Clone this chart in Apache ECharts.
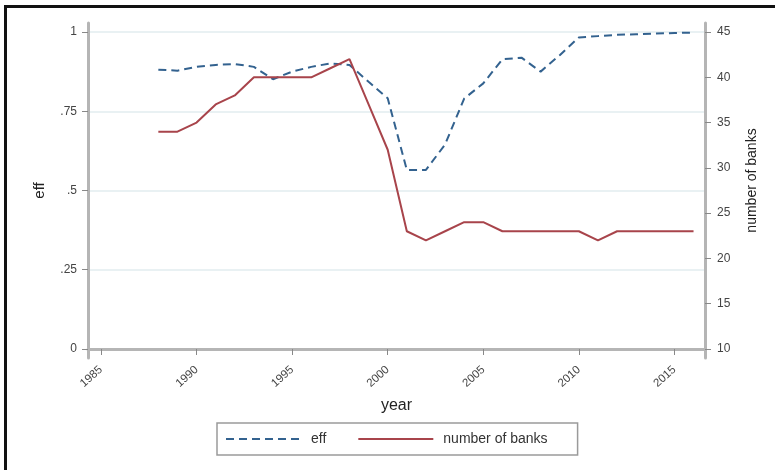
<!DOCTYPE html>
<html><head><meta charset="utf-8">
<script src="https://cdn.jsdelivr.net/npm/echarts@6/dist/echarts.min.js"></script>
<style>html,body{margin:0;padding:0;background:#fff}#c{width:775px;height:470px}</style>
</head><body><div id="c"></div>
<script>
const years = [1988,1989,1990,1991,1992,1993,1994,1995,1996,1997,1998,1999,2000,2001,2002,2003,2004,2005,2006,2007,2008,2009,2010,2011,2012,2013,2014,2015,2016];
const effValues = [0.881,0.878,0.890,0.896,0.899,0.890,0.851,0.875,0.890,0.901,0.896,0.843,0.791,0.565,0.565,0.645,0.790,0.838,0.914,0.919,0.875,0.927,0.983,0.987,0.991,0.993,0.995,0.997,0.998];
const banksValues = [34,34,35,37,38,40,40,40,40,41,42,37,32,23,22,23,24,24,23,23,23,23,23,22,23,23,23,23,23];
const xTicks = [1985,1990,1995,2000,2005,2010,2015];
const effTicks = [0,0.25,0.5,0.75,1];
const effTickLabels = ['0','.25','.5','.75','1'];
const bankTicks = [10,15,20,25,30,35,40,45];

const axisGray = '#b5b5b5';
const FONT = 'Liberation Sans, Arial, sans-serif';
const chart = echarts.init(document.getElementById('c'), null, {renderer:'canvas'});
chart.setOption({
  animation:false,
  backgroundColor:'#fff',
  grid:{left:88, right:70, top:23, bottom:112, containLabel:false},
  legend:{
    left:217, top:423,
    padding:[9,30,9,8],
    itemGap:31, itemWidth:75, itemHeight:14,
    borderColor:'#9a9a9a', borderWidth:1.5, borderRadius:0,
    itemStyle:{opacity:0},
    textStyle:{color:'#333', fontSize:14, fontFamily:FONT, padding:[0,0,0,5]},
    data:['eff','number of banks']
  },
  xAxis:{
    type:'value', min:1984.32, max:2016.6,
    name:'year', nameLocation:'middle', nameGap:40,
    nameTextStyle:{color:'#222', fontSize:16, fontFamily:FONT},
    axisLine:{show:true, lineStyle:{color:axisGray, width:3}},
    axisTick:{show:true, customValues:xTicks, length:6, lineStyle:{color:'#888', width:1}},
    axisLabel:{customValues:xTicks, rotate:42, margin:10, formatter:v=>String(v), color:'#444', fontSize:11.5, fontFamily:FONT},
    splitLine:{show:false}
  },
  yAxis:[{
    type:'value', min:-0.0284, max:1.0284, position:'left',
    name:'eff', nameLocation:'middle', nameRotate:90, nameGap:41,
    nameTextStyle:{color:'#222', fontSize:15, fontFamily:FONT},
    axisLine:{show:true, lineStyle:{color:axisGray, width:3}},
    axisTick:{show:true, customValues:effTicks, length:6, lineStyle:{color:'#888', width:1}},
    axisLabel:{customValues:effTicks, margin:11, formatter:v=>effTickLabels[effTicks.indexOf(v)] ?? '', color:'#444', fontSize:12, fontFamily:FONT},
    splitLine:{show:true, customValues:effTicks, lineStyle:{color:'#e9f1f3', width:2}}
  },{
    type:'value', min:9.006, max:45.994, position:'right',
    name:'number of banks', nameLocation:'middle', nameRotate:90, nameGap:40,
    nameTextStyle:{color:'#222', fontSize:14, fontFamily:FONT, padding:[0,0,0,20]},
    axisLine:{show:true, lineStyle:{color:axisGray, width:3}},
    axisTick:{show:true, customValues:bankTicks, length:6, lineStyle:{color:'#888', width:1}},
    axisLabel:{customValues:bankTicks, margin:12, formatter:v=>String(v), color:'#444', fontSize:12, fontFamily:FONT},
    splitLine:{show:false}
  }],
  series:[{
    name:'eff', type:'line', yAxisIndex:0, symbol:'none',
    data: years.map((y,i)=>[y, effValues[i]]),
    lineStyle:{color:'#33628f', width:2, type:[8,5]},
    itemStyle:{color:'#33628f'}
  },{
    name:'number of banks', type:'line', yAxisIndex:1, symbol:'none',
    data: years.map((y,i)=>[y, banksValues[i]]),
    lineStyle:{color:'#a8444b', width:2},
    itemStyle:{color:'#a8444b'}
  }],
  graphic:[
    {type:'rect', shape:{x:4, y:5, width:771, height:3}, style:{fill:'#111'}, silent:true},
    {type:'rect', shape:{x:4, y:5, width:3, height:465}, style:{fill:'#111'}, silent:true}
  ]
});
</script>
</body></html>
